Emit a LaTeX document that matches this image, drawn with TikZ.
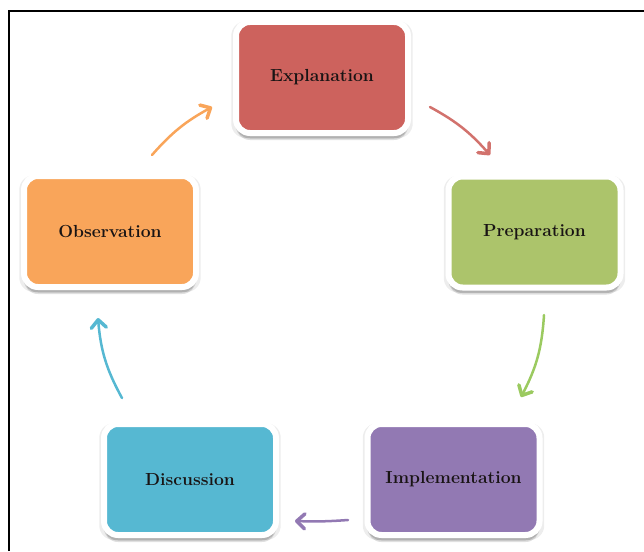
\documentclass[tikz,border=0pt]{standalone}
\usetikzlibrary{arrows.meta,shadows}
\definecolor{explfill}{RGB}{205,98,93}
\definecolor{prepfill}{RGB}{172,196,107}
\definecolor{implfill}{RGB}{146,121,179}
\definecolor{discfill}{RGB}{86,184,210}
\definecolor{obsfill}{RGB}{249,165,90}
\definecolor{labeltext}{RGB}{25,20,20}

\begin{document}
\begin{tikzpicture} [x = 1pt, y = -1pt,
  stage/.style = {rectangle, rounded corners = 14pt, draw = white, line width = 6pt,
    minimum width = 172pt, minimum height = 111pt, text = labeltext,
    font = \bfseries\fontsize{17.5}{21}\selectfont,
    drop shadow = {shadow xshift = 0pt, shadow yshift = -2pt, shadow scale = 1.055, fill = black, opacity = 0.07},
    drop shadow = {shadow xshift = 0pt, shadow yshift = -7pt, fill = black, opacity = 0.12},
    drop shadow = {shadow xshift = 0pt, shadow yshift = -5.5pt, fill = black, opacity = 0.15}},
  flow/.style = {line width = 2.5pt, line cap = round,
    -{Straight Barb[length = 8pt, width = 15pt, line width = 3.5pt, round]}}]
\useasboundingbox (0, 0) rectangle (644, 551);
\draw[line width = 2.5pt] (9, 551) -- (9, 11) -- (644, 11);
\node[stage, fill = explfill] (explanation) at (322.0, 77.5){Explanation};
\node[stage, fill = prepfill] (preparation) at (534.5, 232.0){Preparation};
\node[stage, fill = implfill] (implementation) at (453.5, 479.5){Implementation};
\node[stage, fill = discfill] (discussion) at (190.0, 479.5){Discussion};
\node[stage, fill = obsfill] (observation) at (110.0, 231.5){Observation};
\coordinate (obs out) at (152, 155);
\coordinate (expl in) at (212, 107);
\coordinate (expl out) at (430, 107);
\coordinate (prep in) at (490, 155);
\coordinate (prep out) at (544, 315);
\coordinate (impl in) at (521, 397);
\coordinate (impl out) at (348, 520);
\coordinate (disc in) at (295, 521);
\coordinate (disc out) at (122, 398);
\coordinate (obs in) at (98, 318);
\draw[flow, draw = obsfill] (obs out) to [bend left = 10] (expl in);
\draw[flow, draw = explfill!90] (expl out) to [bend left = 10] (prep in);
\draw[flow, draw = prepfill!90!green] (prep out) to [bend left = 12] (impl in);
\draw[flow, draw = implfill] (impl out) to [bend left = 3] (disc in);
\draw[flow, draw = discfill] (disc out) to [bend left = 12] (obs in);
\end{tikzpicture}
\end{document}
